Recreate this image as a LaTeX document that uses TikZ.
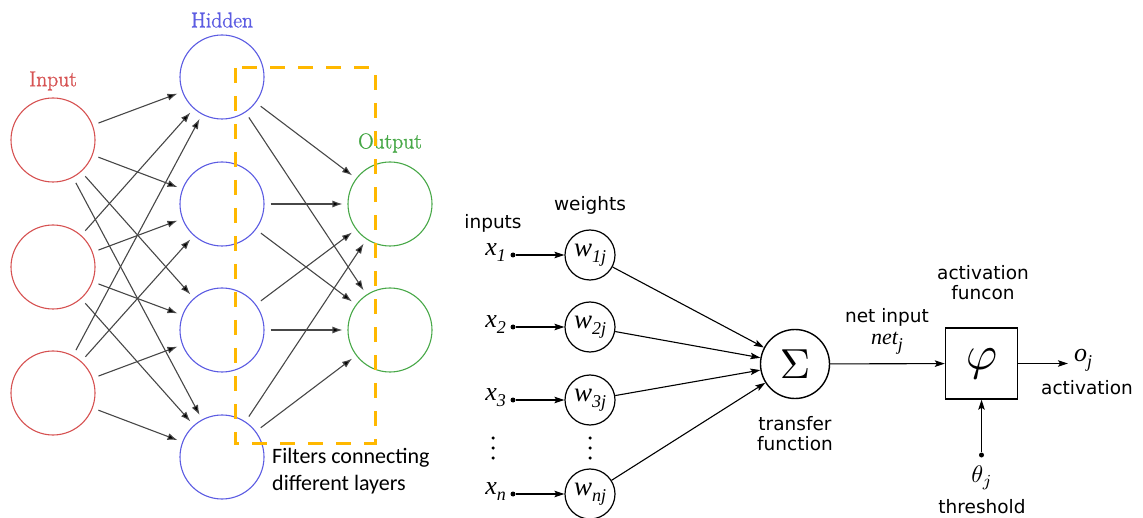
\documentclass[tikz,border=0pt]{standalone}
\usepackage{fontspec}
\usepackage{graphicx}
\usetikzlibrary{arrows.meta}
\newfontfamily\dejavu{DejaVu Sans}
\newfontfamily\carlito{Carlito}
\newfontfamily\tms{Liberation Serif}
\newfontfamily\lmheavy[FakeBold=1.3]{Latin Modern Roman}
\definecolor{inred}{RGB}{214,82,82}
\definecolor{hidblue}{RGB}{92,92,226}
\definecolor{outgreen}{RGB}{72,168,72}
\definecolor{filterorange}{RGB}{255,184,0}
% italic variable with a lowered subscript
\newcommand\varsub[3][26]{{\tms\itshape\fontsize{#1}{#1}\selectfont #2\raisebox{-6pt}{\fontsize{18}{18}\selectfont #3}}}
\begin{document}
\begin{tikzpicture}[x=1pt,y=-1pt,
  neuron/.style={circle,draw,line width=1.1pt,minimum size=84pt,inner sep=0pt},
  layerlabel/.style={font=\lmheavy\fontsize{21.5}{24}\selectfont},
  link/.style={draw=black!72,line width=1.1pt,shorten <=6pt,shorten >=5pt,
    -{Latex[length=10pt,width=7pt,fill=black]}},
  sig/.style={line width=1.1pt,-{Stealth[length=10pt,width=6.5pt,inset=2pt]}},
  plain/.style={font=\dejavu\fontsize{18.5}{20}\selectfont,align=center,inner sep=0pt},
  wnode/.style={circle,draw,line width=1.2pt,minimum size=50pt,inner sep=0pt},
  dot/.style={circle,fill,inner sep=0pt,minimum size=5pt},
  smalldot/.style={circle,fill,inner sep=0pt,minimum size=3.5pt},
]
\useasboundingbox (0,0) rectangle (1143,518);

% ---------- multilayer network ----------
\foreach \k/\y in {1/140,2/267,3/393}
  \node[neuron,draw=inred] (i\k) at (53,\y) {};
\foreach \k/\y in {1/77,2/204,3/330,4/457}
  \node[neuron,draw=hidblue] (h\k) at (222,\y) {};
\foreach \k/\y in {1/204,2/330}
  \node[neuron,draw=outgreen] (o\k) at (390,\y) {};

\node[layerlabel,text=inred] (lin) at (53,81) {Input};
\node[layerlabel,text=hidblue] (lhid) at (222,20) {Hidden};
\node[layerlabel,text=outgreen] (lout) at (390,143) {Output};

\foreach \a in {1,2,3}
  \foreach \b in {1,2,3,4}
    \draw[link] (i\a) -- (h\b);
\foreach \a in {1,2,3,4}
  \foreach \b in {1,2}
    \draw[link] (h\a) -- (o\b);

% filter region
\draw[filterorange,line width=3pt,dash pattern=on 15pt off 13pt]
  (235,68) rectangle (375,443);
\node[font=\carlito\fontsize{22}{27}\selectfont,align=left,anchor=north west,inner sep=0pt]
  (filt) at (272,448) {Filters connecting\\different layers};

% ---------- single neuron ----------
\node[plain] (tinputs) at (493,223) {inputs};
\node[plain] (tweights) at (590,205) {weights};

\foreach \k/\y/\s/\ws in {1/255/{\textit{1}}/{1j},2/327/2/{2j},3/400/3/{3j},n/494/n/{nj}}{
  \node[dot] (d\k) at (513,\y) {};
  \node[anchor=east,inner sep=0pt] (x\k) at (506,\y-2) {\varsub{x}{\s}};
  \node[wnode] (w\k) at (590,\y) {\varsub[27]{w}{\ws}};
  \draw[sig] (d\k) -- (w\k);
}
\foreach \y in {438,448,458}{
  \node[smalldot] at (493,\y) {};
  \node[smalldot] at (590,\y) {};
}

\node[circle,draw,line width=1.4pt,minimum size=69pt,inner sep=0pt] (sum) at (795,364)
  {\scalebox{4.2}{$\Sigma$}};
\foreach \k in {1,2,3,n}
  \draw[sig] (w\k) -- (sum);
\node[plain] (ttrans) at (795,434) {transfer\\function};

\node[draw,line width=1.4pt,minimum width=72pt,minimum height=71pt,inner sep=0pt]
  (act) at (981.5,363.5) {\scalebox{4.8}{$\varphi$}};
\draw[sig] (sum) -- (act);
\node[plain] (tnet) at (887,317) {net input};
\node[inner sep=0pt] (netj) at (887,343) {\varsub[22]{net}{j}};
\node[plain] (tactf) at (983,283) {activation\\funcon};

\coordinate (oend) at (1068,363.5);
\draw[sig] (act) -- (oend);
\node[inner sep=0pt] (oj) at (1083,360) {\varsub{o}{j}};
\node[plain] (tactiv) at (1087,388) {activation};

\node[dot] (th) at (981.5,455) {};
\draw[sig] (th) -- (act);
\node[inner sep=0pt] (thj) at (982,478) {\scalebox{2.4}{$\theta_j$}};
\node[plain] (tthr) at (982,507) {threshold};
\end{tikzpicture}
\end{document}
